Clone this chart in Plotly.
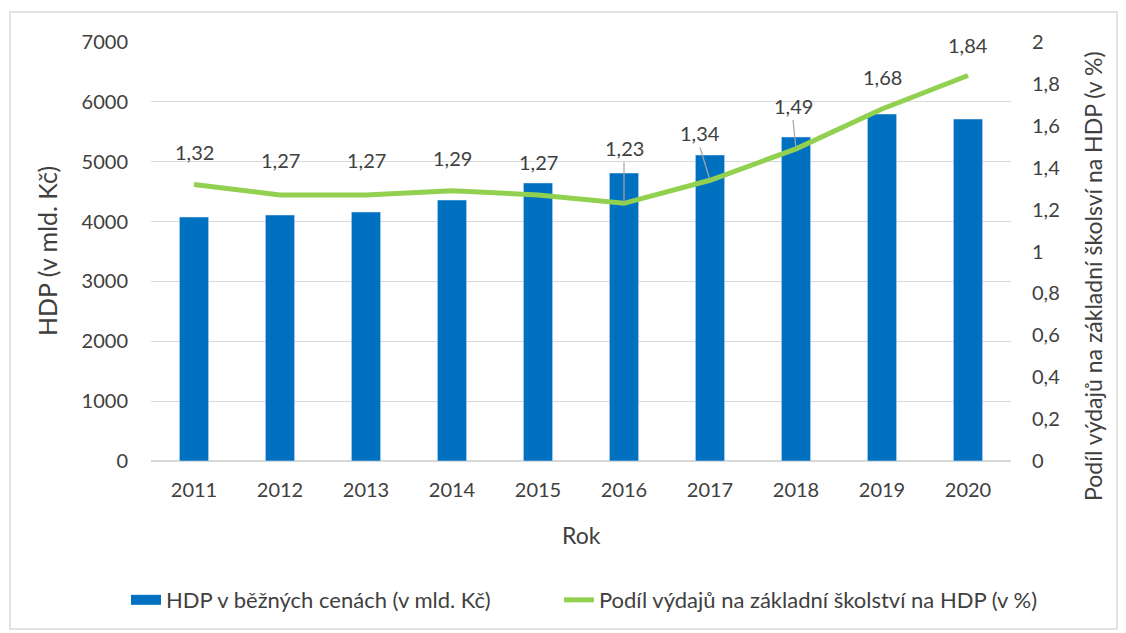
import plotly.graph_objects as go

years = [2011, 2012, 2013, 2014, 2015, 2016, 2017, 2018, 2019, 2020]
hdp = [4076, 4110, 4160, 4360, 4645, 4811, 5112, 5413, 5797, 5713]
podil = [1.32, 1.27, 1.27, 1.29, 1.27, 1.23, 1.34, 1.49, 1.68, 1.84]

bar_name = "HDP v běžných cenách (v mld. Kč)"
line_name = "Podíl výdajů na základní školství na HDP (v %)"
y2_title = "Podíl výdajů na základní školsví na HDP (v %)"
y1_title = "HDP (v mld. Kč)"
x_title = "Rok"

FONT = "Lato"
TXT = "#404040"
BLUE = "#0070C0"
GREEN = "#92D050"

fig = go.Figure()
fig.add_trace(go.Bar(x=years, y=hdp, name=bar_name, marker_color=BLUE,
                     width=0.34, yaxis="y", showlegend=False))
# legend proxy for the bars (wide rectangle symbol like the original)
fig.add_trace(go.Scatter(x=[None], y=[None], name=bar_name, mode="lines",
                         line=dict(color=BLUE, width=13), yaxis="y", legend="legend"))
fig.add_trace(go.Scatter(x=years, y=podil, name=line_name, mode="lines",
                         line=dict(color=GREEN, width=5), yaxis="y2", legend="legend2"))

# data labels
lead = {2016: (0, -41), 2017: (-10, -33), 2018: (-3, -29)}
shift = {2011: 32, 2012: 35, 2013: 35, 2014: 33, 2015: 33, 2019: 32, 2020: 31}
for yr, v in zip(years, podil):
    t = f"{v:.2f}".replace(".", ",")
    if yr in lead:
        ax, ay = lead[yr]
        fig.add_annotation(x=yr, y=v, xref="x", yref="y2", text=t, showarrow=True,
                           arrowhead=0, arrowwidth=1.2, arrowcolor="#A6A6A6",
                           ax=ax, ay=ay, standoff=0, yanchor="bottom",
                           font=dict(family=FONT, size=20, color=TXT))
    else:
        fig.add_annotation(x=yr, y=v, xref="x", yref="y2", text=t, showarrow=False,
                           yshift=shift[yr], font=dict(family=FONT, size=20, color=TXT))

# axis titles
fig.add_annotation(xref="paper", yref="paper", x=-0.1209, y=0.5012, text=y1_title,
                   textangle=-90, showarrow=False, xanchor="center", yanchor="middle",
                   font=dict(family=FONT, size=25, color=TXT))
fig.add_annotation(xref="paper", yref="paper", x=1.0953, y=0.4415, text=y2_title,
                   textangle=-90, showarrow=False, xanchor="center", yanchor="middle",
                   font=dict(family=FONT, size=23, color=TXT))
fig.add_annotation(xref="paper", yref="paper", x=0.5, y=-0.1766, text=x_title,
                   showarrow=False, xanchor="center", yanchor="middle",
                   font=dict(family=FONT, size=23, color=TXT))

# chart frame
fig.add_shape(type="rect", xref="paper", yref="paper",
              x0=-0.1640, x1=1.1233, y0=-0.4010, y1=1.0716,
              line=dict(color="#D9D9D9", width=1.5), layer="below")

legend_common = dict(orientation="h", xref="container", xanchor="left",
                     yref="container", y=0.0647, yanchor="middle",
                     font=dict(size=22, color=TXT), itemwidth=30,
                     bgcolor="rgba(0,0,0,0)")

fig.update_layout(
    width=1126, height=633,
    margin=dict(l=143, r=123, t=34, b=180),
    paper_bgcolor="white", plot_bgcolor="white",
    separators=", ",
    font=dict(family=FONT, size=20, color=TXT),
    xaxis=dict(type="linear", range=[2010.5, 2020.5], tickmode="array",
               tickvals=years, ticktext=[str(y) for y in years],
               showgrid=False, showline=False, zeroline=False, ticks="",
               tickfont=dict(size=20), ticklabelstandoff=15),
    yaxis=dict(range=[0, 7000], dtick=1000, showgrid=True, gridcolor="#D9D9D9",
               gridwidth=1.2, zeroline=True, zerolinecolor="#D9D9D9", showline=False,
               ticks="", ticklabelstandoff=22, tickfont=dict(size=20)),
    yaxis2=dict(range=[0, 2], dtick=0.2, overlaying="y", side="right", showgrid=False,
                zeroline=False, showline=False, ticks="", ticklabelstandoff=20,
                tickfont=dict(size=20)),
    legend=dict(x=0.1048, **legend_common),
    legend2=dict(x=0.4893, **legend_common),
    showlegend=True,
)

fig.write_html("out.html")
